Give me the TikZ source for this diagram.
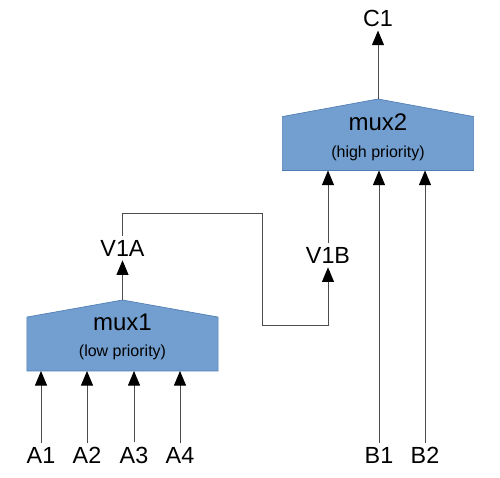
\documentclass[tikz,border=0pt]{standalone}
\usepackage{fontspec}
\setmainfont{Liberation Sans}
\usetikzlibrary{arrows.meta}
\definecolor{muxfill}{RGB}{114,159,207}
\definecolor{muxline}{RGB}{80,125,180}
\tikzset{
  muxbox/.style  = {shape=rectangle, minimum width=143pt, minimum height=40pt,
                    inner sep=0pt},
  muxbody/.style = {fill=muxfill, draw=muxline, line width=0.5pt},
  port/.style    = {font=\fontsize{17.5}{20}\selectfont, inner sep=3pt},
  muxname/.style = {font=\fontsize{18}{20}\selectfont},
  muxnote/.style = {font=\fontsize{12}{14}\selectfont},
  wire/.style    = {draw=black!70, line width=0.75pt},
  sigline/.style = {wire, -{Triangle[length=11pt,width=9pt,color=black]}}
}

\begin{document}
\begin{tikzpicture}[x=0.75pt,y=-0.75pt]
  \useasboundingbox (0,0) rectangle (500,478);

  % the two multiplexers
  \node [muxbox] (mux1) at (122.5,344) {};
  \node [muxbox] (mux2) at (378,143.5) {};
  \coordinate (mux1 apex) at (122.5,300);
  \coordinate (mux2 apex) at (378,99);
  \path [muxbody] (mux1.south west) -- (mux1.north west) -- (mux1 apex)
        -- (mux1.north east) -- (mux1.south east) -- cycle;
  \path [muxbody] (mux2.south west) -- (mux2.north west) -- (mux2 apex)
        -- (mux2.north east) -- (mux2.south east) -- cycle;
  \node [muxname] (mux1 name) at (122.5,322) {mux1};
  \node [muxnote] (mux1 note) at (122.5,352) {(low priority)};
  \node [muxname] (mux2 name) at (378,122) {mux2};
  \node [muxnote] (mux2 note) at (378,153) {(high priority)};

  % ports
  \node [port] (a1) at (41,455)  {A1};
  \node [port] (a2) at (87,455)  {A2};
  \node [port] (a3) at (134,455) {A3};
  \node [port] (a4) at (180,455) {A4};
  \node [port] (b1) at (379,455) {B1};
  \node [port] (b2) at (425,455) {B2};
  \node [port] (c1) at (378,18)  {C1};
  \node [port] (v1a) at (122.5,248) {V1A};
  \node [port] (v1b) at (328,255) {V1B};

  \foreach \p in {a1,a2,a3,a4}
    \draw [sigline] (\p) -- (\p |- mux1.south);
  \foreach \p in {b1,b2}
    \draw [sigline] (\p) -- (\p |- mux2.south);
  \draw [sigline] (mux1 apex) -- (v1a);
  \draw [sigline] (mux2 apex) -- (c1);
  \draw [sigline] (v1b) -- (v1b |- mux2.south);

  % V1A goes round to V1B
  \coordinate (bend) at (262,213);
  \coordinate (low) at (262,325);
  \draw [sigline] (v1a.north) -- (v1a.north |- bend) -- (bend) -- (low)
        -- (low -| v1b) -- (v1b);
\end{tikzpicture}
\end{document}
